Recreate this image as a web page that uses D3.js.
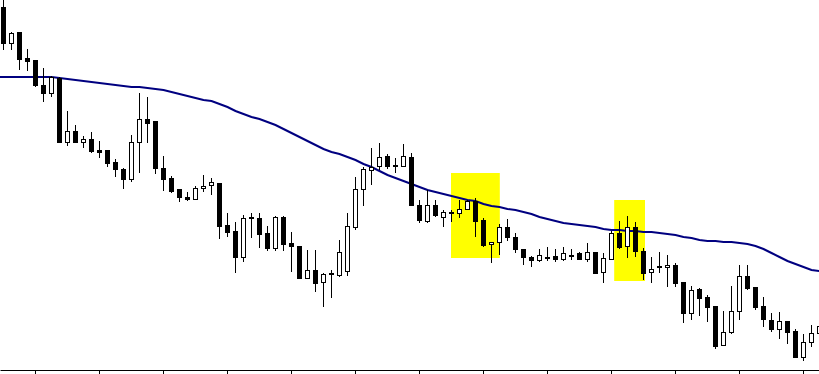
<!DOCTYPE html>
<html>
<head>
<meta charset="utf-8">
<script src="https://cdn.jsdelivr.net/npm/d3@7"></script>
<style>
  body { margin: 0; background: #fff; }
  svg { display: block; }
</style>
</head>
<body>
<div class="chart"></div>
<script>
// candle prices (one per bar)
const open = [
  1.3593,1.3557,1.3568,1.3542,1.3540,1.3515,1.3507,1.3522,1.3458,1.3469,
  1.3458,1.3461,1.3450,1.3450,1.3438,1.3431,1.3421,1.3458,1.3481,1.3479,
  1.3432,1.3422,1.3411,1.3403,1.3401,1.3412,1.3415,1.3417,1.3375,1.3369,
  1.3343,1.3383,1.3382,1.3367,1.3352,1.3383,1.3357,1.3354,1.3322,1.3330,
  1.3318,1.3326,1.3325,1.3329,1.3373,1.3411,1.3430,1.3434,1.3444,1.3435,
  1.3434,1.3443,1.3395,1.3379,1.3395,1.3383,1.3388,1.3387,1.3391,1.3399,
  1.3380,1.3356,1.3358,1.3373,1.3363,1.3351,1.3343,1.3340,1.3343,1.3344,
  1.3341,1.3345,1.3347,1.3341,1.3348,1.3328,1.3341,1.3367,1.3354,1.3373,
  1.3349,1.3328,1.3333,1.3333,1.3335,1.3318,1.3287,1.3311,1.3303,1.3294,
  1.3255,1.3268,1.3289,1.3324,1.3313,1.3294,1.3280,1.3271,1.3279,1.3269,
  1.3243,1.3258,1.3267
];
const close = [
  1.3557,1.3567,1.3541,1.3539,1.3515,1.3507,1.3523,1.3458,1.3469,1.3458,
  1.3461,1.3449,1.3448,1.3437,1.3431,1.3421,1.3458,1.3481,1.3477,1.3432,
  1.3421,1.3409,1.3403,1.3401,1.3412,1.3414,1.3418,1.3374,1.3368,1.3343,
  1.3382,1.3382,1.3366,1.3352,1.3383,1.3356,1.3354,1.3322,1.3330,1.3317,
  1.3326,1.3327,1.3348,1.3374,1.3411,1.3431,1.3433,1.3443,1.3434,1.3434,
  1.3444,1.3395,1.3380,1.3395,1.3385,1.3388,1.3387,1.3391,1.3399,1.3379,
  1.3355,1.3358,1.3373,1.3363,1.3351,1.3343,1.3340,1.3345,1.3342,1.3341,
  1.3347,1.3344,1.3341,1.3348,1.3327,1.3342,1.3367,1.3353,1.3373,1.3349,
  1.3327,1.3331,1.3334,1.3335,1.3317,1.3287,1.3310,1.3302,1.3293,1.3254,
  1.3268,1.3289,1.3324,1.3312,1.3293,1.3281,1.3271,1.3279,1.3268,1.3243,
  1.3258,1.3267,1.3274
];
const high = [
  1.3605,1.3568,1.3568,1.3551,1.3540,1.3532,1.3524,1.3523,1.3489,1.3475,
  1.3464,1.3468,1.3459,1.3450,1.3441,1.3432,1.3465,1.3507,1.3503,1.3479,
  1.3444,1.3424,1.3411,1.3408,1.3414,1.3425,1.3422,1.3417,1.3387,1.3378,
  1.3385,1.3387,1.3387,1.3374,1.3384,1.3384,1.3368,1.3354,1.3350,1.3350,
  1.3327,1.3330,1.3360,1.3387,1.3423,1.3433,1.3452,1.3457,1.3446,1.3442,
  1.3456,1.3447,1.3400,1.3410,1.3400,1.3390,1.3390,1.3400,1.3400,1.3402,
  1.3382,1.3358,1.3376,1.3381,1.3367,1.3351,1.3344,1.3351,1.3353,1.3351,
  1.3353,1.3351,1.3348,1.3357,1.3348,1.3347,1.3369,1.3379,1.3384,1.3378,
  1.3352,1.3343,1.3348,1.3345,1.3337,1.3318,1.3314,1.3312,1.3305,1.3294,
  1.3289,1.3314,1.3335,1.3335,1.3313,1.3303,1.3287,1.3288,1.3279,1.3271,
  1.3266,1.3275,1.3280
];
const low = [
  1.3550,1.3550,1.3530,1.3529,1.3513,1.3498,1.3503,1.3457,1.3454,1.3457,
  1.3452,1.3447,1.3442,1.3433,1.3423,1.3411,1.3418,1.3427,1.3457,1.3426,
  1.3409,1.3407,1.3398,1.3399,1.3400,1.3408,1.3405,1.3361,1.3363,1.3327,
  1.3338,1.3362,1.3352,1.3349,1.3349,1.3349,1.3328,1.3321,1.3321,1.3308,
  1.3293,1.3302,1.3323,1.3324,1.3370,1.3394,1.3415,1.3430,1.3431,1.3427,
  1.3434,1.3395,1.3377,1.3377,1.3383,1.3373,1.3378,1.3382,1.3390,1.3363,
  1.3353,1.3337,1.3345,1.3359,1.3347,1.3335,1.3333,1.3338,1.3339,1.3338,
  1.3339,1.3340,1.3340,1.3338,1.3326,1.3317,1.3340,1.3351,1.3342,1.3343,
  1.3320,1.3317,1.3327,1.3313,1.3313,1.3277,1.3280,1.3284,1.3278,1.3251,
  1.3255,1.3266,1.3280,1.3310,1.3290,1.3273,1.3268,1.3261,1.3256,1.3242,
  1.3239,1.3253,1.3260
];
// moving average line, starts one bar before the first visible candle
const ma = [
  1.3523,
  1.3523,1.3523,1.3523,1.3523,1.3523,1.3523,1.3523,1.3522,1.3521,1.3520,
  1.3519,1.3518,1.3517,1.3516,1.3515,1.3514,1.3513,1.3513,1.3512,1.3511,
  1.3510,1.3508,1.3506,1.3504,1.3502,1.3500,1.3499,1.3496,1.3493,1.3489,
  1.3486,1.3483,1.3481,1.3478,1.3475,1.3471,1.3467,1.3463,1.3459,1.3455,
  1.3451,1.3448,1.3446,1.3443,1.3440,1.3436,1.3433,1.3429,1.3425,1.3422,
  1.3419,1.3416,1.3413,1.3410,1.3408,1.3406,1.3404,1.3402,1.3400,1.3399,
  1.3396,1.3394,1.3393,1.3391,1.3390,1.3388,1.3386,1.3383,1.3381,1.3379,
  1.3377,1.3376,1.3375,1.3374,1.3373,1.3371,1.3370,1.3370,1.3369,1.3369,
  1.3368,1.3368,1.3367,1.3366,1.3365,1.3363,1.3362,1.3360,1.3359,1.3359,
  1.3358,1.3358,1.3357,1.3356,1.3354,1.3351,1.3347,1.3343,1.3339,1.3336,
  1.3333,1.3330,1.3329
];
// yellow highlight boxes (bar index range, price range)
const boxStart = [56, 76.4];
const boxEnd = [62.1, 80.25];
const boxHigh = [1.3427, 1.3400];
const boxLow = [1.3342, 1.3319];
// time axis ticks every 8 bars
const tickBars = [4, 12, 20, 28, 36, 44, 52, 60, 68, 76, 84, 92, 100];

const width = 819, height = 374;

const svg = d3
  .select(".chart")
  .append("svg")
  .attr("width", width)
  .attr("height", height);

// scales: 8px per bar
const x = d3.scaleLinear().domain([-0.375, 102]).range([0, 819]);
const y = d3.scaleLinear().domain([1.3230, 1.3600]).range([370, 0]);

const candles = open.map((o, i) => ({
  i, o, c: close[i], h: high[i], l: low[i]
}));
const boxes = boxStart.map((s, k) => ({
  s, e: boxEnd[k], hi: boxHigh[k], lo: boxLow[k]
}));

// highlight boxes
svg
  .selectAll("rect.box")
  .data(boxes)
  .enter()
  .append("rect")
  .attr("class", "box")
  .attr("x", d => x(d.s))
  .attr("width", d => x(d.e) - x(d.s))
  .attr("y", d => y(d.hi))
  .attr("height", d => y(d.lo) - y(d.hi))
  .style("fill", "#ffff00");

// moving average (index shifted by one, see ma above)
const line = d3
  .line()
  .x((d, i) => x(i - 1) + 0.5)
  .y(d => y(d));

svg
  .append("path")
  .datum(ma)
  .attr("d", line)
  .style("fill", "none")
  .style("stroke", "#000080")
  .style("stroke-width", 2);

// candles
const g = svg
  .selectAll("g.candle")
  .data(candles)
  .enter()
  .append("g")
  .attr("class", "candle");

g.append("line")
  .attr("x1", d => x(d.i) + 0.5)
  .attr("x2", d => x(d.i) + 0.5)
  .attr("y1", d => Math.round(y(d.h)))
  .attr("y2", d => Math.round(y(d.l)))
  .style("stroke", "black")
  .style("stroke-width", 1);

g.append("rect")
  .attr("x", d => Math.round(x(d.i)) - 1.5)
  .attr("width", 4)
  .attr("y", d => Math.round(y(Math.max(d.o, d.c))) + 0.5)
  .attr("height", d => Math.round(y(Math.min(d.o, d.c))) - Math.round(y(Math.max(d.o, d.c))))
  .style("fill", d => (d.c >= d.o ? "white" : "black"))
  .style("stroke", "black")
  .style("stroke-width", 1);

// bottom axis, no labels
const xAxis = d3
  .axisBottom(x)
  .tickValues(tickBars)
  .tickFormat("")
  .tickSize(5)
  .tickSizeOuter(0);

svg
  .append("g")
  .attr("class", "axis x-axis")
  .attr("transform", "translate(0, 370)")
  .call(xAxis);
</script>
</body>
</html>
